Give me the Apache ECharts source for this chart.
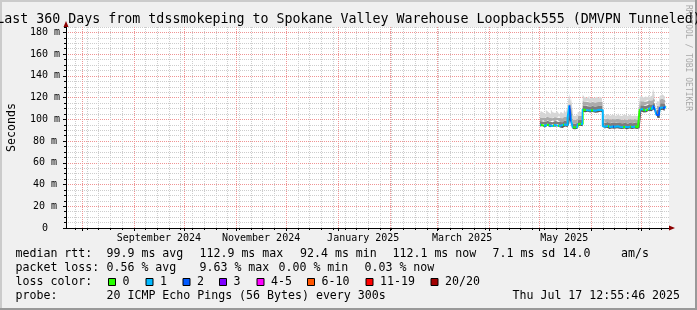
<!DOCTYPE html>
<html><head><meta charset="utf-8">
<script src="https://cdn.jsdelivr.net/npm/echarts@6/dist/echarts.min.js"></script>
<style>html,body{margin:0;padding:0;background:#f0f0f0}#c{width:697px;height:310px}</style>
</head><body><div id="c"></div>
<script>
// ---------- data ----------
const TITLE = 'Last 360 Days from tdssmokeping to Spokane Valley Warehouse Loopback555 (DMVPN Tunneled)';
const END_TIME = [2025, 6, 17, 12, 55, 46];   // Jul 17 2025 12:55:46
const SPAN_DAYS = 360;
const FIRST_DAY = [2025, 4, 1];               // first day with data: May 1 2025

// daily median RTT (ms), May 1 .. Jul 16
const median = [95.2,94.6,95.8,94.1,95.0,96.1,94.4,93.8,95.5,94.9,94.2,95.7,94.0,94.8,93.6,95.3,94.5,
  101.5,112.9,99.0,92.8,92.4,93.0,95.6,95.9,95.5,
  109.2,108.6,108.3,108.9,108.1,108.4,108.7,108.0,108.5,108.2,108.8,108.3,
  93.6,93.2,94.0,93.5,92.9,93.4,93.8,93.1,93.6,94.3,
  93.0,92.8,93.5,93.2,92.7,93.6,93.3,92.9,93.1,93.4,92.8,93.7,
  108.7,109.4,108.2,109.0,108.6,110.2,108.9,109.6,
  112.4,110.0,104.2,103.8,110.5,111.0,110.3,112.1];
// smoke: lowest ping
const pingMin = [93.4,93.0,93.9,92.5,93.2,94.0,92.8,92.3,93.6,93.1,92.6,93.8,92.4,93.0,92.1,93.5,92.9,
  96.0,105.0,95.5,91.2,90.9,91.4,93.8,94.1,93.7,
  107.0,106.6,106.4,106.9,106.2,106.5,106.8,106.1,106.6,106.3,106.9,106.4,
  91.8,91.5,92.2,91.7,91.2,91.6,92.0,91.4,91.8,92.3,
  91.3,91.1,91.7,91.5,91.0,91.8,91.6,91.2,91.4,91.6,91.1,91.9,
  106.7,107.3,106.2,107.0,106.6,107.9,106.9,107.5,
  109.0,107.8,101.5,101.2,108.2,108.8,108.0,109.6];
// smoke: dense upper band edge
const pingMid = [98.5,98.0,99.2,97.6,98.6,99.5,97.9,97.3,99.0,98.4,97.8,99.3,97.5,98.3,97.1,98.9,98.0,
  106.0,117.0,104.5,96.5,96.0,96.8,99.2,99.6,99.1,
  113.0,112.5,112.1,112.8,111.9,112.3,112.6,111.8,112.4,112.0,112.7,112.1,
  97.2,96.8,97.6,97.1,96.5,97.0,97.4,96.7,97.2,98.0,
  96.6,96.3,97.1,96.8,96.2,97.2,96.9,96.4,96.7,97.0,96.3,97.3,
  112.8,113.5,112.3,113.1,112.7,114.3,113.0,113.7,
  117.0,114.2,108.8,108.3,114.6,115.2,114.4,116.0];
// smoke: upper medium band edge
const pingHigh = [102.0,101.5,103.0,101.2,102.3,103.4,101.6,101.0,102.8,102.1,101.4,103.1,101.2,102.0,100.8,102.6,101.7,
  110.5,120.0,108.0,100.0,99.4,100.3,102.9,103.3,102.8,
  116.8,116.2,115.9,116.6,115.6,116.0,116.4,115.5,116.1,115.8,116.5,115.9,
  100.6,100.2,101.1,100.5,99.9,100.4,100.9,100.1,100.6,101.5,
  100.0,99.7,100.5,100.2,99.6,100.6,100.3,99.8,100.1,100.4,99.7,100.7,
  116.6,117.3,116.1,116.9,116.5,118.1,116.8,117.5,
  121.5,118.0,112.5,112.0,118.3,118.9,118.1,119.8];
// smoke: highest ping
const pingMax = [105.5,107.8,106.2,104.9,108.5,106.8,105.0,109.2,106.5,105.8,107.3,108.0,104.6,106.9,105.2,108.8,106.0,
  114.0,123.5,112.0,103.8,103.0,104.2,106.5,107.0,106.4,
  122.8,120.5,119.6,121.4,118.9,120.2,119.4,118.7,120.8,119.1,121.0,119.5,
  104.2,103.6,105.0,103.9,103.2,104.5,104.8,103.4,104.1,106.0,
  103.5,103.0,104.6,104.0,102.9,104.3,103.8,103.1,103.6,104.2,103.0,104.4,
  120.5,121.8,119.9,121.0,120.3,122.5,120.6,121.9,
  128.5,122.0,117.0,116.5,121.5,123.0,121.2,122.8];
// loss class per day (index into lossColors)
const lossClass = [1,0,0,1,1,0,1,1,0,1,1,0,1,1,0,1,1,
  1,2,1,0,0,1,0,0,1,
  0,0,1,1,1,0,1,1,1,1,1,1,
  1,1,1,0,1,1,2,1,1,1,
  1,1,0,1,1,1,0,1,1,0,0,0,
  1,1,0,1,0,1,0,1,
  2,1,2,2,1,1,2,1];

const lossColors = ['#26ff00','#00b8ff','#0059ff','#7e00ff','#ff00ff','#ff5500','#ff0000','#a10000'];
const lossLabels = ['0','1','2','3','4-5','6-10','11-19','20/20'];

const yTicks = [0,20,40,60,80,100,120,140,160,180];
const monthStarts = ['2024-08-01','2024-09-01','2024-10-01','2024-11-01','2024-12-01','2025-01-01',
  '2025-02-01','2025-03-01','2025-04-01','2025-05-01','2025-06-01','2025-07-01'];
const monthLabelDates = ['2024-09-16','2024-11-16','2025-01-16','2025-03-16','2025-05-16'];
const monthLabels = ['September 2024','November 2024','January 2025','March 2025','May 2025'];
const firstWeekLine = '2024-07-28';

const rttTitle = 'median rtt:';
const rttItems = ['99.9 ms avg','112.9 ms max','92.4 ms min','112.1 ms now','7.1 ms sd','14.0','am/s'];
const lossTitle = 'packet loss:';
const lossItems = ['0.56 % avg','9.63 % max','0.00 % min','0.03 % now'];
const colorTitle = 'loss color:';
const probeTitle = 'probe:';
const probeText = '20 ICMP Echo Pings (56 Bytes) every 300s';
const stampText = 'Thu Jul 17 12:55:46 2025';
const watermark = 'RRDTOOL / TOBI OETIKER';

// ---------- build ----------
const DAY = 86400000;
const END = Date.UTC(...END_TIME);
const START = END - SPAN_DAYS * DAY;
const day0 = Date.UTC(...FIRST_DAY);
const tms = s => Date.parse(s + 'T00:00:00Z');
const T = median.map((_, i) => day0 + (i + 0.5) * DAY);
const pair = a => a.map((v, i) => [T[i], v]);
const diff = (a, b) => a.map((v, i) => [T[i], +(v - b[i]).toFixed(2)]);

const weekLines = [];
for (let w = tms(firstWeekLine); w < END; w += 7 * DAY) weekLines.push(w);
const monthLines = monthStarts.map(tms);
const labelTimes = monthLabelDates.map(tms);

const MONO = '"DejaVu Sans Mono", monospace';
const grayGrid = { color: '#cdcdcd', width: 1, type: [1, 1] };
const redGrid = { color: '#ef9494', width: 1, type: [1, 1] };

const pieces = lossClass.map((c, i) => ({ gte: day0 + i * DAY, lt: day0 + (i + 1) * DAY, color: lossColors[c] }));

function smoke(data, color) {
  return { type: 'line', stack: 'smoke', data, symbol: 'none', step: 'middle', silent: true,
    lineStyle: { width: 0 }, areaStyle: color ? { color, opacity: 1 } : undefined,
    xAxisIndex: 0, yAxisIndex: 0 };
}

const graphic = [
  { type: 'rect', shape: { x: 0, y: 0, width: 697, height: 2 }, style: { fill: '#cbcbcb' } },
  { type: 'rect', shape: { x: 0, y: 0, width: 2, height: 310 }, style: { fill: '#cbcbcb' } },
  { type: 'rect', shape: { x: 0, y: 308, width: 697, height: 2 }, style: { fill: '#999999' } },
  { type: 'rect', shape: { x: 695, y: 0, width: 2, height: 310 }, style: { fill: '#999999' } },
  { type: 'text', x: 688, y: 5, rotation: -Math.PI / 2,
    style: { text: watermark, font: '8px ' + MONO, fill: '#a8a8a8', align: 'left', verticalAlign: 'middle' } }
];
function txt(s, x, y) {
  graphic.push({ type: 'text', x, y, style: { text: s, font: '11.6px ' + MONO, fill: '#000', align: 'left', verticalAlign: 'middle' } });
}
const rowY = [254, 268, 282, 296];
const col0 = 15.5;
txt(rttTitle, col0, rowY[0]);
const rttX = [106.5, 199.5, 300, 392.5, 492.5, 562.5, 621];
rttItems.forEach((s, i) => txt(s, rttX[i], rowY[0]));
txt(lossTitle, col0, rowY[1]);
const lossX = [106.5, 199.5, 278.5, 364.5];
lossItems.forEach((s, i) => txt(s, lossX[i], rowY[1]));
txt(colorTitle, col0, rowY[2]);
const swX = [108, 145.5, 182.5, 219, 256.5, 307, 365.5, 430.5];
lossLabels.forEach((s, i) => {
  graphic.push({ type: 'rect', shape: { x: swX[i] + 0.5, y: rowY[2] - 3.5, width: 7, height: 7 },
    style: { fill: lossColors[i], stroke: '#000', lineWidth: 1 } });
  txt(s, swX[i] + 14.5, rowY[2]);
});
txt(probeTitle, col0, rowY[3]);
txt(probeText, 106.5, rowY[3]);
txt(stampText, 512.5, rowY[3]);

const valueX = (extra) => Object.assign({ type: 'value', min: START, max: END, position: 'bottom',
  axisLine: { show: false, onZero: false }, axisTick: { show: false }, axisLabel: { show: false },
  splitLine: { show: false } }, extra);

const chart = echarts.init(document.getElementById('c'), null, { renderer: 'canvas' });
chart.setOption({
  animation: false,
  backgroundColor: '#f0f0f0',
  title: { text: TITLE, left: 'center', top: 13, padding: 0,
    textStyle: { fontFamily: MONO, fontSize: 13.3, fontWeight: 'normal', color: '#000' } },
  grid: { left: 66, right: 28, top: 27, bottom: 82, show: true, backgroundColor: '#ffffff', borderWidth: 0,
    containLabel: false, outerBoundsMode: 'none' },
  xAxis: [
    // data axis (time)
    { type: 'time', min: START, max: END, position: 'bottom',
      axisLine: { show: true, onZero: false, lineStyle: { color: '#000', width: 1 } },
      axisTick: { show: false }, axisLabel: { show: false }, splitLine: { show: false } },
    // weekly minor grid
    valueX({ axisTick: { show: true, customValues: weekLines, length: 2, lineStyle: { color: '#000' } },
      splitLine: { show: true, lineStyle: grayGrid } }),
    // monthly major grid
    valueX({ axisTick: { show: true, customValues: monthLines, length: 3, lineStyle: { color: '#000' } },
      splitLine: { show: true, lineStyle: redGrid } }),
    // month labels + arrow
    valueX({ axisLine: { show: true, onZero: false, symbol: ['none', 'triangle'], symbolSize: [5, 6], symbolOffset: [0, 3],
        lineStyle: { color: '#8b0000', width: 0 } },
      axisLabel: { show: true, customValues: labelTimes, margin: 5, color: '#000', fontFamily: MONO, fontSize: 10,
        formatter: v => { const i = labelTimes.findIndex(x => Math.abs(x - v) < DAY / 2); return i >= 0 ? monthLabels[i] : ''; } } })
  ],
  yAxis: [
    { type: 'value', min: 0, max: 185, interval: 5, position: 'left',
      name: 'Seconds', nameLocation: 'middle', nameGap: 48,
      nameTextStyle: { fontFamily: MONO, fontSize: 11.6, color: '#000' },
      axisLine: { show: true, onZero: false, lineStyle: { color: '#000', width: 1 } },
      axisTick: { show: true, length: 2, lineStyle: { color: '#000' } },
      axisLabel: { show: false }, splitLine: { show: true, lineStyle: grayGrid } },
    { type: 'value', min: 0, max: 185, position: 'left',
      axisLine: { show: true, onZero: false, symbol: ['none', 'triangle'], symbolSize: [5, 6], symbolOffset: [0, 3],
        lineStyle: { color: '#8b0000', width: 0 } },
      axisTick: { show: true, customValues: yTicks, length: 3, lineStyle: { color: '#000' } },
      axisLabel: { show: true, customValues: yTicks, align: 'center', margin: 21, color: '#000', fontFamily: MONO, fontSize: 10,
        formatter: v => v === 0 ? '0' : v + ' m' },
      splitLine: { show: true, lineStyle: redGrid } }
  ],
  visualMap: { type: 'piecewise', show: false, dimension: 0, seriesIndex: 5, pieces, outOfRange: { color: '#26ff00' } },
  series: [
    smoke(pair(pingMin), null),
    smoke(diff(median, pingMin), '#555555'),
    smoke(diff(pingMid, median), '#7d7d7d'),
    smoke(diff(pingHigh, pingMid), '#ababab'),
    smoke(diff(pingMax, pingHigh), '#d6d6d6'),
    { type: 'line', data: pair(median), symbol: 'none', step: 'middle', silent: true, z: 5,
      lineStyle: { width: 2 }, xAxisIndex: 0, yAxisIndex: 0 }
  ],
  graphic
});
</script></body></html>
